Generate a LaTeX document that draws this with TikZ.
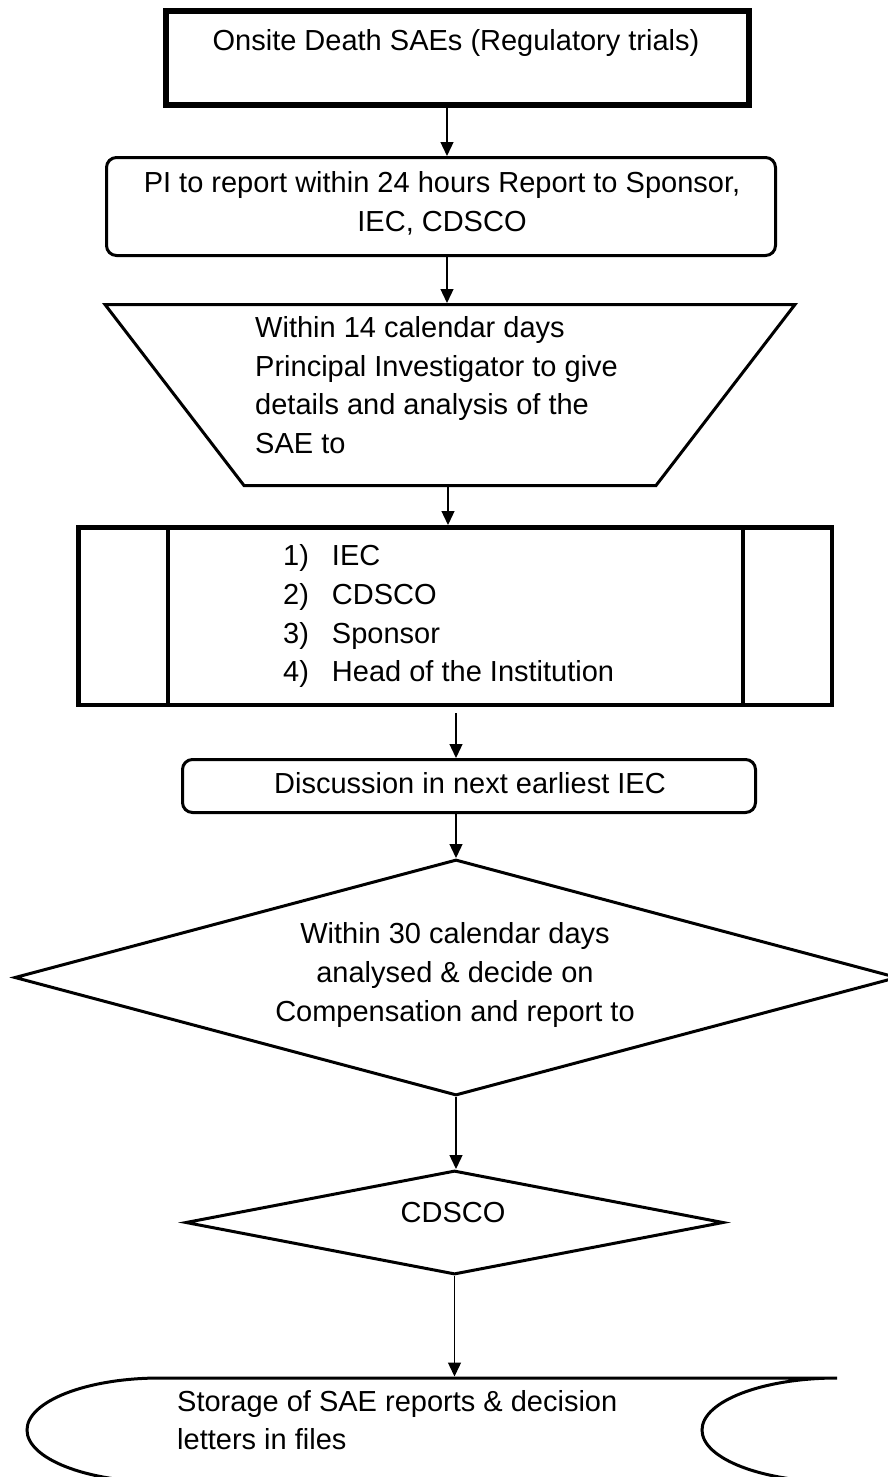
\documentclass[tikz,border=0pt]{standalone}
\usepackage{fontspec}
\setmainfont{Liberation Sans}
\usetikzlibrary{shapes.geometric,arrows.meta}
\begin{document}
\begin{tikzpicture}[x=1pt,y=-1pt,
  txt/.style={inner sep=0pt, font=\fontsize{29}{38.7}\selectfont},
  heavybox/.style={draw, line width=6pt, rectangle, inner sep=0pt},
  roundbox/.style={draw, line width=3pt, rectangle, rounded corners=10pt, inner sep=0pt},
  listbox/.style={draw, line width=4.5pt, rectangle, inner sep=0pt},
  decision/.style={draw, line width=3pt, diamond, inner sep=0pt},
  shapeline/.style={line width=3pt, line join=miter},
  divider/.style={line width=4.5pt},
  arr/.style={line width=1.3pt, -{Triangle[length=14pt,width=13pt]}},
]
\useasboundingbox (0,0) rectangle (888,1477);

% start event
\node[heavybox, minimum width=583pt, minimum height=94pt] (start) at (457.5,58) {};
\node[txt] (starttext) at (456,43) {Onsite Death SAEs (Regulatory trials)};

% 24-hour report
\node[roundbox, minimum width=669pt, minimum height=98pt] (pi) at (441,206.5) {};
\node[txt, align=center] (pitext) at (442,203) {PI to report within 24 hours Report to Sponsor,\\IEC, CDSCO};

% 14-day analysis (inverted trapezium)
\draw[shapeline] (105,304.5) -- (795,304.5) -- (656,485.5) -- (244,485.5) -- cycle;
\coordinate (traptop) at (447,303);
\coordinate (trapbot) at (448,487);
\node[txt, align=left, anchor=west] (traptext) at (255,385)
  {Within 14 calendar days\\Principal Investigator to give\\details and analysis of the\\SAE to};

% recipients (predefined process)
\node[listbox, minimum width=753.5pt, minimum height=177.5pt] (list) at (455,616) {};
\draw[divider] ([xshift=92pt]list.north west) -- ([xshift=92pt]list.south west);
\draw[divider] ([xshift=-91pt]list.north east) -- ([xshift=-91pt]list.south east);
\node[txt, anchor=west] (listtext) at (283,616) {\begin{tabular}{@{}l@{\hspace{23pt}}l@{}}
1) & IEC\\
2) & CDSCO\\
3) & Sponsor\\
4) & Head of the Institution
\end{tabular}};

% IEC discussion
\node[roundbox, minimum width=573pt, minimum height=53pt] (disc) at (469,786) {};
\node[txt] (disctext) at (470,783) {Discussion in next earliest IEC};

% 30-day decision
\node[decision, minimum width=883pt, minimum height=236pt] (big) at (456,977.5) {};
\node[txt, align=center] (bigtext) at (455,975)
  {Within 30 calendar days\\analysed \& decide on\\Compensation and report to};

% CDSCO
\node[decision, minimum width=538pt, minimum height=104pt] (cds) at (454.5,1222.5) {};
\node[txt] (cdstext) at (453,1213) {CDSCO};

% storage
\draw[shapeline] (160,1378) -- (837,1378)
  arc[start angle=90, end angle=270, x radius=135pt, y radius=52pt]
  -- (160,1482)
  arc[start angle=270, end angle=90, x radius=133pt, y radius=52pt] -- cycle;
\coordinate (storetop) at (455,1376.5);
\node[txt, align=left, anchor=west] (storetext) at (177,1420)
  {Storage of SAE reports \& decision\\letters in files};

% connectors
\coordinate (a1) at ([xshift=-10.5pt]start.south);
\draw[arr] (a1) -- (a1 |- pi.north);
\coordinate (a2) at ([xshift=6pt]pi.south);
\draw[arr] (a2) -- (traptop);
\draw[arr] (trapbot) -- (trapbot |- list.north);
\coordinate (a4) at ([xshift=1pt,yshift=-6pt]list.south);
\draw[arr] (a4) -- (a4 |- disc.north);
\coordinate (a5) at ([xshift=-13pt]disc.south);
\draw[arr] (a5) -- (big.north);
\draw[arr] (big.south) -- (big.south |- cds.north);
\draw[arr] (cds.south) -- (cds.south |- storetop);
\end{tikzpicture}
\end{document}
